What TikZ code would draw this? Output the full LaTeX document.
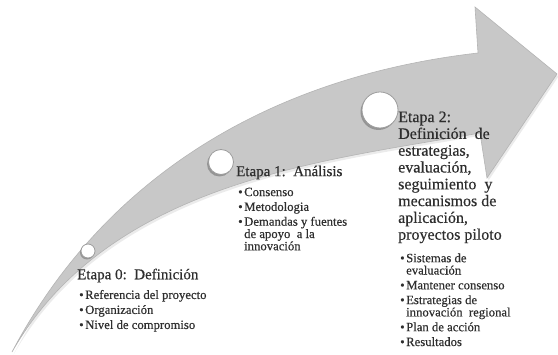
\documentclass[tikz,border=0pt]{standalone}
\usepackage{fontspec}
\setmainfont{Liberation Serif}[FakeBold=0.45]
\definecolor{bandgray}{HTML}{C8C8C8}
\definecolor{banddark}{HTML}{B4B4B4}
\definecolor{circgray}{HTML}{9C9C9C}
\definecolor{txt}{HTML}{2E2E2E}
\newcommand{\bi}{\makebox[6pt][l]{•}}
\newcommand{\bc}{\hspace*{6pt}}
\begin{document}
\begin{tikzpicture}[x=1pt,y=-1pt,
  band/.style={fill=bandgray, draw=banddark, line width=0.6pt},
  dot/.style={circle, fill=white, draw=circgray, line width=0.8pt, inner sep=0pt},
  dotshadow/.style={circle, fill=black, opacity=0.25, inner sep=0pt},
  ttl/.style={anchor=north west, inner sep=0pt, align=left, text=txt, font=\fontsize{15}{16.8}\selectfont},
  ttlb/.style={anchor=north west, inner sep=0pt, align=left, text=txt, font=\fontsize{16}{16.8}\selectfont},
  blist/.style={anchor=north west, inner sep=0pt, align=left, text=txt, font=\fontsize{12.7}{12.3}\selectfont}]
\useasboundingbox (0,0) rectangle (558,355);
\fill[white] (0,0) rectangle (558,355);
% soft shadow of the arrow
\path[fill=black, opacity=0.08, shift={(1.5,2.5)}] (12,352) .. controls (100,185) and (260,78) .. (478,53) -- (475,7) -- (557,74) -- (487,178) -- (480,133) .. controls (330,160) and (110,180) .. (12,352) -- cycle;
% the arrow
\path[band] (12,352) .. controls (100,185) and (260,78) .. (478,53) -- (475,7) -- (557,74) -- (487,178) -- (480,133) .. controls (330,160) and (110,180) .. (12,352) -- cycle;
% circles
\node[dotshadow, minimum size=14pt] (s0) at (87,252.5) {};
\node[dot, minimum size=14pt] (c0) at (88,251) {};
\node[dotshadow, minimum size=25pt] (s1) at (219.5,164) {};
\node[dot, minimum size=25pt] (c1) at (221,162) {};
\node[dotshadow, minimum size=36pt] (s2) at (378.5,112) {};
\node[dot, minimum size=36pt] (c2) at (380,110) {};
% stage 0
\node[ttl] (t0) at (77,268.5) {Etapa 0:\ \ Definición};
\node[blist] (l0) at (79,289.8) {\bi Referencia del proyecto\\[2.7pt]\bi Organización\\[2.7pt]\bi Nivel de compromiso};
% stage 1
\node[ttl] (t1) at (236,165.5) {Etapa 1:\ \ Análisis};
\node[blist] (l1) at (238,187.5) {\bi Consenso\\[2.5pt]\bi Metodologia\\[2.5pt]\bi Demandas y fuentes\\\bc de apoyo\ \ a la\\\bc innovación};
% stage 2
\node[ttlb] (t2) at (398,111.3) {Etapa 2:\\Definición\ \ de\\estrategias,\\evaluación,\\seguimiento\ \ y\\mecanismos de\\aplicación,\\proyectos piloto};
\node[blist] (l2) at (400,253.2) {\bi Sistemas de\\\bc evaluación\\[2.5pt]\bi Mantener consenso\\[2.5pt]\bi Estrategias de\\\bc innovación\ \ regional\\[2.5pt]\bi Plan de acción\\[2.5pt]\bi Resultados};
\end{tikzpicture}
\end{document}
